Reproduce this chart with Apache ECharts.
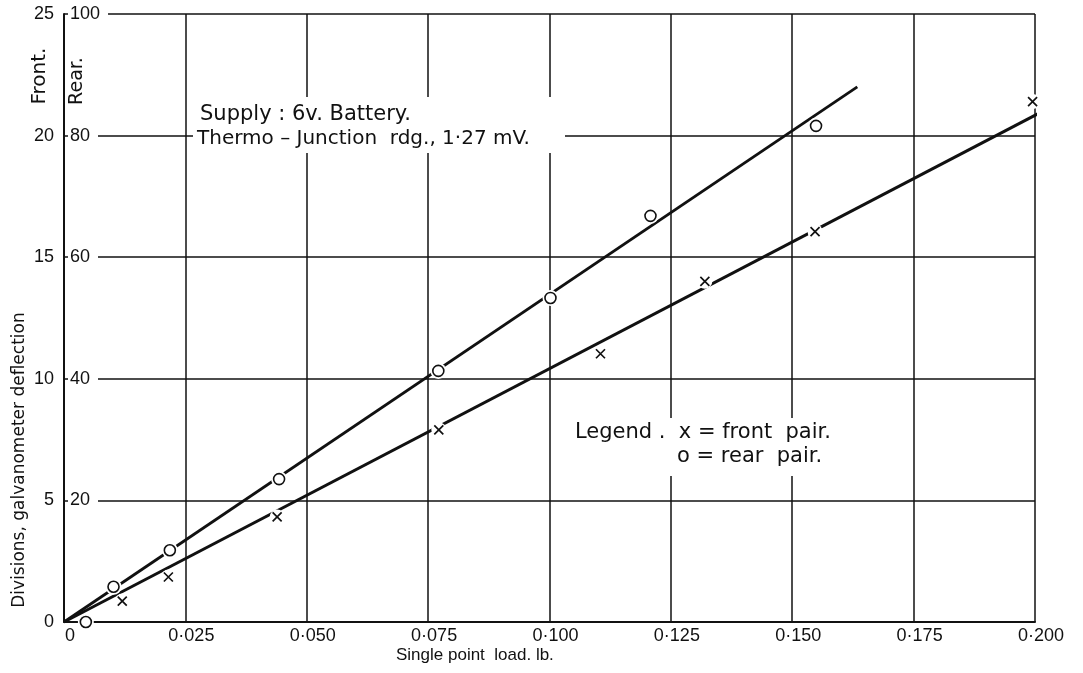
<!DOCTYPE html>
<html>
<head>
<meta charset="utf-8">
<script src="https://cdn.jsdelivr.net/npm/echarts@6/dist/echarts.min.js"></script>
<style>
html,body{margin:0;padding:0;background:#fff;}
#chart{width:1083px;height:673px;}
</style>
</head>
<body>
<div id="chart"></div>
<script>
// ---- data ----
const xTickLabels = ['0', '0·025', '0·050', '0·075', '0·100', '0·125', '0·150', '0·175', '0·200'];
const frontTickLabels = ['0', '5', '10', '15', '20', '25'];
const rearTickLabels = ['0', '20', '40', '60', '80', '100'];

// front pair (x), divisions on front scale 0-25
const frontLoad = [0.012, 0.0215, 0.0439, 0.0772, 0.1105, 0.132, 0.1547, 0.1995];
const frontDiv  = [0.86, 1.85, 4.32, 7.9, 11.03, 14.01, 16.05, 21.4];
// rear pair (o), divisions on rear scale 0-100
const rearLoad = [0.0045, 0.0102, 0.0218, 0.0443, 0.0771, 0.1002, 0.1208, 0.1549];
const rearDiv  = [0, 5.8, 11.8, 23.5, 41.3, 53.3, 66.8, 81.6];
// fitted lines
const frontFitLoad = [0, 0.2016];
const frontFitDiv  = [0, 21.0];
const rearFitLoad = [0, 0.1634];
const rearFitDiv  = [0, 88.0];

const FONT = '"Liberation Sans", "DejaVu Sans", sans-serif';
const WIDE = '"DejaVu Sans", "Liberation Sans", sans-serif';
const zip = (a, b) => a.map((v, i) => [v, b[i]]);
const xMark = 'path://M0,0L10,10M10,0L0,10';

const chart = echarts.init(document.getElementById('chart'), null, {renderer: 'canvas'});
chart.setOption({
  backgroundColor: '#fff',
  animation: false,
  textStyle: {fontFamily: FONT, color: '#111'},
  grid: {left: 64, right: 48, top: 14, bottom: 51, containLabel: false},
  xAxis: {
    type: 'value', min: 0, max: 0.2, interval: 0.025,
    axisLine: {show: true, lineStyle: {color: '#111', width: 2}},
    axisTick: {show: false},
    splitLine: {show: true, lineStyle: {color: '#111', width: 1.5}},
    axisLabel: {
      fontSize: 18, color: '#111', fontFamily: FONT, margin: 5,
      padding: [0, 0, 0, 12],
      formatter: v => xTickLabels[Math.round(v / 0.025)]
    }
  },
  yAxis: [
    {
      type: 'value', min: 0, max: 25, interval: 5, position: 'left',
      axisLine: {show: true, lineStyle: {color: '#111', width: 2}},
      axisTick: {show: false},
      splitLine: {show: true, lineStyle: {color: '#111', width: 1.5}},
      axisLabel: {
        fontSize: 18, color: '#111', fontFamily: FONT, margin: 10,
        formatter: v => frontTickLabels[Math.round(v / 5)]
      }
    },
    {
      type: 'value', min: 0, max: 100, interval: 20, position: 'left',
      axisLine: {show: false}, axisTick: {show: false}, splitLine: {show: false},
      axisLabel: {
        inside: true, showMinLabel: false, fontSize: 18, color: '#111', fontFamily: FONT,
        margin: 4, backgroundColor: '#fff', padding: [2, 8, 2, 2],
        formatter: v => rearTickLabels[Math.round(v / 20)]
      }
    }
  ],
  graphic: [
    {type: 'rect', z: 50, shape: {x: 193, y: 97, width: 372, height: 56}, style: {fill: '#fff'}},
    {type: 'text', z: 51, left: 200, top: 104, style: {text: 'Supply : 6v. Battery.', font: '21px ' + WIDE, fill: '#111'}},
    {type: 'text', z: 51, left: 197, top: 129, style: {text: 'Thermo – Junction  rdg., 1·27 mV.', font: '20px ' + WIDE, fill: '#111'}},
    {type: 'rect', z: 50, shape: {x: 565, y: 418, width: 285, height: 58}, style: {fill: '#fff'}},
    {type: 'text', z: 51, left: 575, top: 422, style: {text: 'Legend .  x = front  pair.', font: '21px ' + WIDE, fill: '#111'}},
    {type: 'text', z: 51, left: 677, top: 446, style: {text: 'o = rear  pair.', font: '21px ' + WIDE, fill: '#111'}},
    {type: 'text', z: 51, x: 20, y: 460, rotation: Math.PI / 2,
      style: {text: 'Divisions, galvanometer deflection', font: '17px ' + WIDE, fill: '#111', align: 'center', verticalAlign: 'middle'}},
    {type: 'text', z: 51, x: 40, y: 76, rotation: Math.PI / 2,
      style: {text: 'Front.', font: '20px ' + WIDE, fill: '#111', align: 'center', verticalAlign: 'middle'}},
    {type: 'text', z: 51, x: 77, y: 81, rotation: Math.PI / 2,
      style: {text: 'Rear.', font: '19px ' + WIDE, fill: '#111', align: 'center', verticalAlign: 'middle'}},
    {type: 'text', z: 51, left: 396, top: 647, style: {text: 'Single point  load. lb.', font: '17px ' + FONT, fill: '#111'}}
  ],
  series: [
    {type: 'line', name: 'front fit', data: zip(frontFitLoad, frontFitDiv), yAxisIndex: 0,
      symbol: 'none', clip: false, z: 2, lineStyle: {color: '#111', width: 3}},
    {type: 'line', name: 'rear fit', data: zip(rearFitLoad, rearFitDiv), yAxisIndex: 1,
      symbol: 'none', clip: false, z: 2, lineStyle: {color: '#111', width: 2.8}},
    {type: 'scatter', name: 'front halo', data: zip(frontLoad, frontDiv), yAxisIndex: 0,
      symbol: 'circle', symbolSize: 15, z: 3, clip: false, silent: true,
      itemStyle: {color: '#fff', opacity: 1}},
    {type: 'scatter', name: 'rear halo', data: zip(rearLoad, rearDiv), yAxisIndex: 1,
      symbol: 'circle', symbolSize: 16, z: 3, clip: false, silent: true,
      itemStyle: {color: '#fff', opacity: 1}},
    {type: 'scatter', name: 'front pair', data: zip(frontLoad, frontDiv), yAxisIndex: 0,
      symbol: xMark, symbolSize: 9, z: 4, clip: false,
      itemStyle: {color: 'none', borderColor: '#111', borderWidth: 1.7, opacity: 1}},
    {type: 'scatter', name: 'rear pair', data: zip(rearLoad, rearDiv), yAxisIndex: 1,
      symbol: 'circle', symbolSize: 11, z: 4, clip: false,
      itemStyle: {color: '#fff', borderColor: '#111', borderWidth: 1.6, opacity: 1}}
  ]
});
</script>
</body>
</html>
